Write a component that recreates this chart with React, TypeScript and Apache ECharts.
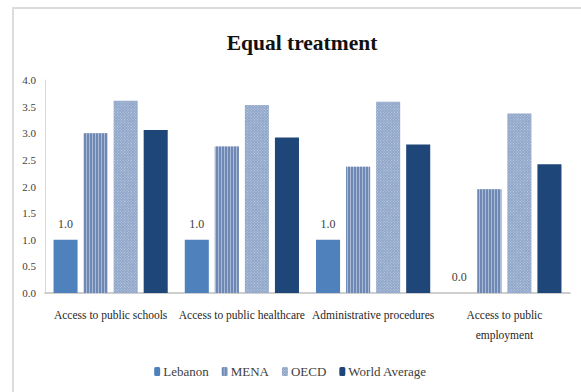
import React, { useEffect, useRef } from "react";
import * as echarts from "echarts";

const categories = [
  "Access to public schools",
  "Access to public healthcare",
  "Administrative procedures",
  "Access to public\nemployment",
];
const lebanon = [1.0, 1.0, 1.0, 0.0];
const mena = [3.0, 2.75, 2.37, 1.95];
const oecd = [3.61, 3.53, 3.59, 3.37];
const worldAverage = [3.06, 2.92, 2.79, 2.42];
const seriesNames = ["Lebanon", "MENA", "OECD", "World Average"];

const FONT = "Liberation Serif";

export default function App() {
  const ref = useRef<HTMLDivElement>(null);
  useEffect(() => {
    if (!ref.current) return;
    const chart = echarts.init(ref.current, undefined, { renderer: "svg" });
    chart.setOption({
      animation: false,
      backgroundColor: "#ffffff",
      textStyle: { fontFamily: FONT },
      title: {
        text: "Equal treatment",
        left: 297,
        textAlign: "center",
        top: 27,
        textStyle: { fontFamily: FONT, fontSize: 21.5, fontWeight: "bold", color: "#111111" },
      },
      graphic: [
        {
          type: "rect",
          shape: { x: 13, y: 8, width: 640, height: 440 },
          style: { fill: "none", stroke: "#dcdcdc", lineWidth: 2 },
          silent: true,
        },
      ],
      legend: {
        data: seriesNames,
        bottom: 9,
        left: "center",
        itemWidth: 6,
        itemHeight: 9,
        itemGap: 13,
        textStyle: { fontFamily: FONT, fontSize: 13, color: "#404040", padding: [0, 0, 0, -2] },
      },
      grid: { left: 45, right: 11, top: 80, bottom: 99 },
      xAxis: {
        type: "category",
        data: categories,
        axisLine: { lineStyle: { color: "#bfbfbf", width: 1.5 } },
        axisTick: { show: false },
        axisLabel: {
          interval: 0,
          fontFamily: FONT,
          fontSize: 11.5,
          color: "#262626",
          margin: 12,
          lineHeight: 20,
        },
      },
      yAxis: {
        type: "value",
        min: 0,
        max: 4,
        interval: 0.5,
        axisLine: { show: true, lineStyle: { color: "#d9d9d9" } },
        axisTick: { show: false },
        splitLine: { show: false },
        axisLabel: {
          formatter: (v: number) => v.toFixed(1),
          fontFamily: FONT,
          fontSize: 11,
          color: "#404040",
          margin: 9,
        },
      },
      series: [
        {
          name: "Lebanon",
          type: "bar",
          data: lebanon,
          barGap: "25%",
          barCategoryGap: "13%",
          itemStyle: { color: "#4F81BD" },
          label: {
            show: true,
            position: "top",
            distance: 10,
            formatter: (p: any) => p.value.toFixed(1),
            fontFamily: FONT,
            fontSize: 12,
            color: "#404040",
          },
        },
        {
          name: "MENA",
          type: "bar",
          data: mena,
          itemStyle: {
            color: "#A9BBD8",
            decal: {
              symbol: "rect",
              symbolSize: 1,
              color: "#6E88B3",
              dashArrayX: [2, 1],
              dashArrayY: [4, 0],
            },
          },
        },
        {
          name: "OECD",
          type: "bar",
          data: oecd,
          itemStyle: {
            color: "#8EA5C9",
            decal: {
              symbol: "rect",
              symbolSize: 1,
              color: "rgba(255,255,255,0.45)",
              dashArrayX: [1, 1],
              dashArrayY: [1, 1],
              rotation: Math.PI / 4,
            },
          },
        },
        {
          name: "World Average",
          type: "bar",
          data: worldAverage,
          itemStyle: { color: "#1F4679" },
        },
      ],
    });
    return () => chart.dispose();
  }, []);
  return (
    <div
      ref={ref}
      style={{ position: "fixed", left: 0, top: 0, width: 581, height: 392 }}
    />
  );
}
